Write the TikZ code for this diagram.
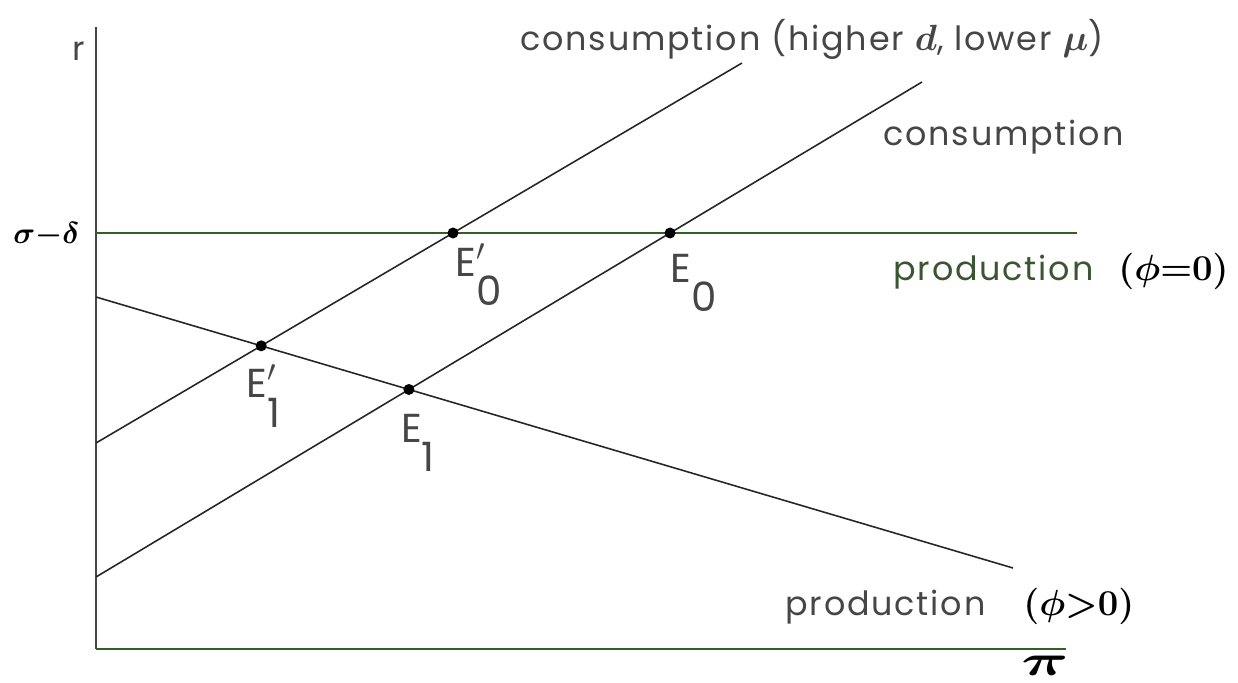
\documentclass[tikz,border=0pt]{standalone}
\usepackage{amsmath,amssymb}
\usepackage{fontspec}
\setmainfont{Poppins}[LetterSpace=5.5]
\usepackage{tikz}
\usetikzlibrary{positioning,intersections}
\definecolor{plotgreen}{RGB}{50,95,35}
\definecolor{inkgray}{RGB}{70,70,70}
\tikzset{
  axisline/.style={line width=0.9pt, draw=inkgray},
  greenline/.style={line width=0.9pt, draw=plotgreen},
  curveline/.style={line width=0.9pt, draw=black!85},
  eqdot/.style={circle, fill=black, inner sep=0pt, minimum size=0.22cm},
  eqlabel/.style={inner sep=0pt, anchor=base west, font=\fontsize{23}{24}\selectfont, text=inkgray},
  curvelabel/.style={inner sep=0pt, anchor=base west, font=\fontsize{19}{22}\selectfont, text=inkgray},
  handmath/.style={inner sep=0pt, anchor=base west, font=\fontsize{21}{23}\selectfont}
}
\newcommand{\hand}[1]{{\fontsize{22}{22}\selectfont$\boldsymbol{#1}$}}

\begin{document}
\begin{tikzpicture}[x=0.02cm, y=-0.02cm]
  \useasboundingbox (0,0) rectangle (1238,683);
  % axes
  \coordinate (rtop) at (96,27);
  \coordinate (orig) at (96,649);
  \coordinate (piend) at (1066,649);
  \draw[axisline] (rtop) -- (orig);
  \draw[greenline] (orig) -- (piend);
  \node[curvelabel] (rlab) at (72,60) {r};
  \node[handmath, font=\fontsize{16}{18}\selectfont] (sdlab) at (13,243) {$\boldsymbol{\sigma{-}\delta}$};
  \node[handmath, font=\fontsize{23}{25}\selectfont] (pilab) at (1021,675) {\scalebox{1.5}[1]{$\boldsymbol{\pi}$}};

  % schedules
  \coordinate (hp0) at (96,233);  \coordinate (hp1) at (1077,233);
  \coordinate (pp0) at (96,297);  \coordinate (pp1) at (1013,568);
  \coordinate (ca0) at (96,443);  \coordinate (ca1) at (742,63);
  \coordinate (cb0) at (96,577);  \coordinate (cb1) at (922,82);
  \draw[greenline, name path=hprod] (hp0) -- (hp1);
  \draw[curveline, name path=pprod] (pp0) -- (pp1);
  \draw[curveline, name path=consA] (ca0) -- (ca1);
  \draw[curveline, name path=consB] (cb0) -- (cb1);

  % equilibria
  \path[name intersections={of=consA and hprod, by=e0p}];
  \path[name intersections={of=consB and hprod, by=e0}];
  \path[name intersections={of=consA and pprod, by=e1p}];
  \path[name intersections={of=consB and pprod, by=e1}];
  \node[eqdot] (E0p) at (e0p) {};
  \node[eqdot] (E0) at (e0) {};
  \node[eqdot] (E1p) at (e1p) {};
  \node[eqdot] (E1) at (e1) {};
  \node[eqlabel] (E0plab) at ([shift={(2,43)}]E0p) {E\rlap{$'$}\raisebox{-\height}{0}};
  \node[eqlabel] (E0lab) at ([shift={(0,49)}]E0) {E\raisebox{-\height}{0}};
  \node[eqlabel] (E1plab) at ([shift={(-15,52)}]E1p) {E\rlap{$'$}\raisebox{-\height}{1}};
  \node[eqlabel] (E1lab) at ([shift={(-8,53)}]E1) {E\raisebox{-\height}{1}};

  % labels
  \node[curvelabel] (consAlab) at (520,50) {consumption (higher \hand{d}, lower \hand{\mu})};
  \node[curvelabel] (consBlab) at (883,145) {consumption};
  \node[curvelabel, text=plotgreen!60!inkgray] (hprodlab) at (893,280) {production};
  \node[handmath] (hprodcond) at (1118,280) {$\boldsymbol{(\phi{=}0)}$};
  \node[curvelabel] (pprodlab) at (785,615) {production};
  \node[handmath] (pprodcond) at (1023,615) {$\boldsymbol{(\phi{>}0)}$};
\end{tikzpicture}
\end{document}
